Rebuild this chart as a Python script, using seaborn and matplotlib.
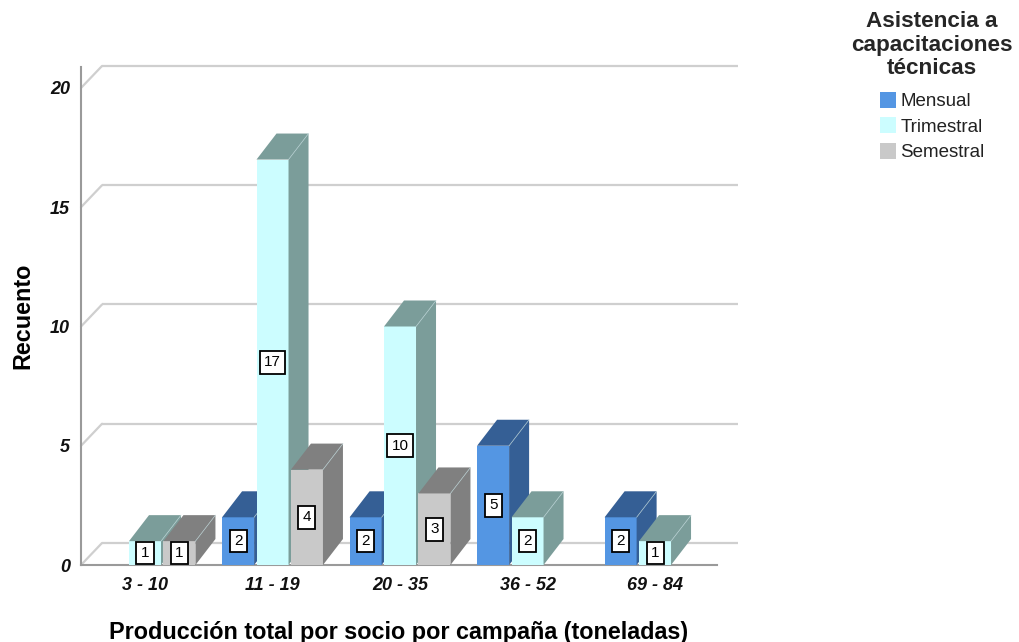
import numpy as np
import pandas as pd
import matplotlib
matplotlib.use("Agg")
import matplotlib.pyplot as plt
from matplotlib.patches import Polygon
import seaborn as sns

# Counts per production range and training-attendance frequency
categories = ["3 - 10", "11 - 19", "20 - 35", "36 - 52", "69 - 84"]
levels = ["Mensual", "Trimestral", "Semestral"]
mensual = [0, 2, 2, 5, 2]
trimestral = [1, 17, 10, 2, 1]
semestral = [1, 4, 3, 0, 0]
yticks = [0, 5, 10, 15, 20]

front_colors = ["#5496e3", "#ccfdff", "#c9c9c9"]
side_colors = ["#355f95", "#7b9d9a", "#808080"]

rows = []
for lvl, vals in zip(levels, [mensual, trimestral, semestral]):
    for cat, v in zip(categories, vals):
        if v > 0:
            rows.append({"cat": cat, "lvl": lvl, "n": v})
df = pd.DataFrame(rows)

sns.set_theme(style="white")
plt.rcParams["font.family"] = ["Liberation Sans", "DejaVu Sans"]

W, H = 1019, 642
fig = plt.figure(figsize=(W / 100, H / 100), dpi=100)
ax_left, ax_right, ax_bottom, ax_top = 81, 717, 565, 67
ax = fig.add_axes([ax_left / W, (H - ax_bottom) / H,
                   (ax_right - ax_left) / W, (ax_bottom - ax_top) / H])

sns.barplot(data=df, x="cat", y="n", hue="lvl", order=categories,
            hue_order=levels, palette=front_colors, saturation=1,
            width=0.81, gap=0.07, ax=ax, legend=True, linewidth=0)

xmin, xmax = -0.502, 4.486
ymin, ymax = 0, 20.88
ax.set_xlim(xmin, xmax)
ax.set_ylim(ymin, ymax)

px_x = (ax_right - ax_left) / (xmax - xmin)
px_y = (ax_bottom - ax_top) / (ymax - ymin)

# depth of the bars and of the back wall, in data units
bdx, bdy = 20 / px_x, 26 / px_y
gdx, gdy = 21 / px_x, 22 / px_y

# back wall grid lines with their slanted connectors
for v in yticks:
    ax.plot([xmin + gdx, xmax + gdx], [v + gdy, v + gdy], color="#cfcfcf",
            lw=1.6, clip_on=False, zorder=0.5, solid_capstyle="butt")
    ax.plot([xmin, xmin + gdx], [v, v + gdy], color="#cfcfcf",
            lw=1.6, clip_on=False, zorder=0.5)

# extrude each bar: top and side faces
for k, cont in enumerate(ax.containers):
    for bar in cont.patches:
        x0 = bar.get_x()
        w = bar.get_width()
        h = bar.get_height()
        x1 = x0 + w
        z = 2 + x0
        bar.set_zorder(z)
        bar.set_edgecolor(front_colors[k])
        top = Polygon([(x0, h), (x1, h), (x1 + bdx, h + bdy), (x0 + bdx, h + bdy)],
                      closed=True, facecolor=side_colors[k], edgecolor="none",
                      zorder=z, clip_on=False)
        side = Polygon([(x1, 0), (x1, h), (x1 + bdx, h + bdy), (x1 + bdx, bdy)],
                       closed=True, facecolor=side_colors[k], edgecolor="none",
                       zorder=z, clip_on=False)
        ax.add_patch(top)
        ax.add_patch(side)
        ax.plot([x1, x1 + bdx], [h, h + bdy], color="#b9d3d6", lw=0.6,
                zorder=z + 0.01, clip_on=False, alpha=0.7)
    labels = [f"{int(round(b.get_height()))}" for b in cont.patches]
    txts = ax.bar_label(cont, labels=labels, label_type="center", fontsize=11,
                        color="black",
                        bbox=dict(boxstyle="square,pad=0.28", facecolor="white",
                                  edgecolor="black", lw=1.3))
    for t, b in zip(txts, cont.patches):
        t.set_zorder(b.get_zorder() + 0.5)

for s in ["top", "right"]:
    ax.spines[s].set_visible(False)
for s in ["left", "bottom"]:
    ax.spines[s].set_color("#9a9a9a")
    ax.spines[s].set_linewidth(1.5)
    ax.spines[s].set_zorder(1)

ax.set_yticks(yticks)
ax.tick_params(axis="both", length=0)
ax.tick_params(axis="x", pad=9)
ax.tick_params(axis="y", pad=8)
for lab in ax.get_xticklabels() + ax.get_yticklabels():
    lab.set_fontfamily(["Liberation Sans Narrow", "Liberation Sans", "DejaVu Sans"])
    lab.set_fontweight("bold")
    lab.set_fontstyle("italic")
    lab.set_fontsize(13)
    lab.set_color("#111111")

ax.set_xlabel("Producción total por socio por campaña (toneladas)",
              fontsize=16.8, fontweight="bold", labelpad=19, color="black")
ax.set_ylabel("Recuento", fontsize=16.8, fontweight="bold", labelpad=11, color="black")

leg = ax.legend(title="Asistencia a\ncapacitaciones\ntécnicas",
                loc="upper center", bbox_to_anchor=(932 / W, 1 + 2 / H),
                bbox_transform=fig.transFigure, frameon=False,
                fontsize=13.5, title_fontproperties={"weight": "bold", "size": 16.2},
                handlelength=0.85, handleheight=0.95, handletextpad=0.25,
                labelspacing=0.37, alignment="center", borderpad=0.2)
leg.get_title().set_multialignment("center")
leg.get_title().set_linespacing(1.16)
leg._legend_box.sep = 9
for t in leg.get_texts():
    t.set_color("#222222")

fig.savefig("out.png", dpi=100, facecolor="white")
